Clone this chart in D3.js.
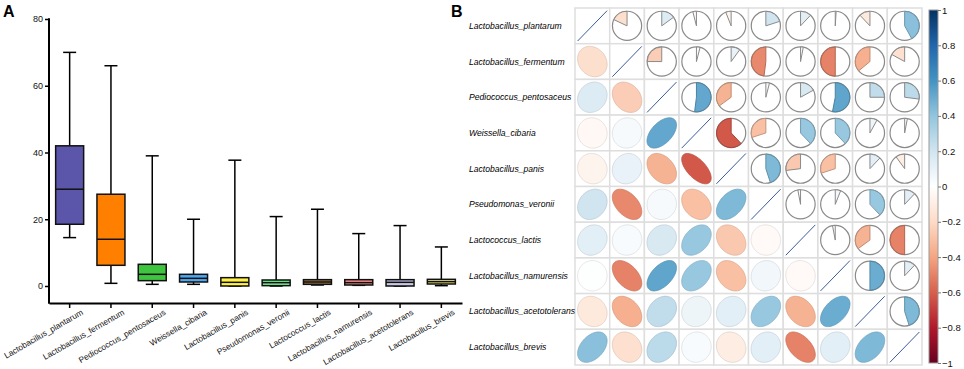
<!DOCTYPE html>
<html>
<head>
<meta charset="utf-8">
<script src="https://cdn.jsdelivr.net/npm/d3@7"></script>
<style>
  body { margin: 0; background: #ffffff; }
  svg { display: block; font-family: "Liberation Sans", Arial, sans-serif; }
</style>
</head>
<body>
<div id="chart"></div>
<script>
// species, same order for the box plot and the matrix
const species = [
  "Lactobacillus_plantarum", "Lactobacillus_fermentum", "Pediococcus_pentosaceus",
  "Weissella_cibaria", "Lactobacillus_panis", "Pseudomonas_veronii",
  "Lactococcus_lactis", "Lactobacillus_namurensis", "Lactobacillus_acetotolerans",
  "Lactobacillus_brevis"
];

// box plot values
const boxMin    = [14.5, 0.8, 0.5, 0.5, 0.0, 0.0, 0.3, 0.2, 0.0, 0.1];
const boxQ1     = [18.5, 6.2, 1.6, 1.2, 0.0, 0.1, 0.5, 0.3, 0.0, 0.6];
const boxMedian = [29.0, 14.0, 3.5, 2.3, 1.1, 1.0, 1.2, 1.0, 1.1, 1.3];
const boxQ3     = [42.0, 27.5, 6.5, 3.5, 2.5, 1.8, 1.9, 1.9, 1.9, 2.0];
const boxMax    = [70.0, 66.0, 39.0, 20.0, 37.7, 20.8, 23.0, 15.7, 18.1, 11.7];
const yTicks    = [0, 20, 40, 60, 80];
const boxColors = ["#5c56aa", "#ff8000", "#3fc43f", "#4ea8f0", "#fff04a",
                   "#6cf090", "#a67c4a", "#f08a86", "#c8c8e8", "#ece57a"];

// correlation, upper triangle row by row (j > i)
const corrUpper = [
  [-0.18, 0.15, -0.04, -0.06, 0.20, 0.12, 0.01, -0.12, 0.42],
  [-0.25, 0.04, 0.10, -0.48, 0.03, -0.50, -0.36, -0.17],
  [0.52, -0.35, 0.04, 0.17, 0.53, 0.25, 0.27],
  [-0.62, -0.30, 0.38, 0.38, 0.08, 0.03],
  [0.45, -0.27, -0.30, 0.12, -0.10],
  [-0.03, 0.06, 0.38, 0.12],
  [-0.03, -0.35, -0.50],
  [0.50, 0.12],
  [0.45]
];
const legendTicks = [1, 0.8, 0.6, 0.4, 0.2, 0, -0.2, -0.4, -0.6, -0.8, -1];
const rdbu = ["#67001F", "#B2182B", "#D6604D", "#F4A582", "#FDDBC7", "#FFFFFF",
              "#D1E5F0", "#92C5DE", "#4393C3", "#2166AC", "#053061"];

const W = 964, H = 369;
const svg = d3.select("#chart").append("svg").attr("width", W).attr("height", H);

// ---------- panel A ----------
svg.append("text").attr("x", 3).attr("y", 17)
   .style("font-size", "16px").style("font-weight", "bold").text("A");

const x = d3.scaleBand().domain(species).range([49, 462]);
const y = d3.scaleLinear().domain([0, 80]).range([286, 19]);
const axisY = 303;

const gA = svg.append("g");

const yAxis = gA.append("g").attr("transform", "translate(49,0)")
  .call(d3.axisLeft(y).tickValues(yTicks).tickSize(4).tickSizeOuter(0));
yAxis.select(".domain").remove();
yAxis.selectAll("line").attr("stroke-width", 1.5);
yAxis.selectAll("text").style("font-size", "9px").attr("x", -6).attr("fill", "#111");
gA.append("line").attr("x1", 49).attr("x2", 49).attr("y1", y(80) - 0.75).attr("y2", axisY + 0.75)
  .attr("stroke", "#000").attr("stroke-width", 2);

const xAxis = gA.append("g").attr("transform", `translate(0,${axisY})`)
  .call(d3.axisBottom(x).tickSize(5).tickSizeOuter(0));
xAxis.select(".domain").attr("stroke-width", 2);
xAxis.selectAll("line").attr("stroke-width", 1.5);
xAxis.selectAll("text")
  .style("font-size", "8.3px").attr("fill", "#111")
  .attr("text-anchor", "end")
  .attr("y", 0).attr("dy", 0)
  .attr("transform", "translate(14,11) rotate(-30)");

const boxes = species.map((s, i) => ({
  name: s, min: boxMin[i], q1: boxQ1[i], med: boxMedian[i], q3: boxQ3[i], max: boxMax[i], color: boxColors[i]
}));
const bw = 28, cap = 13;

const bg = gA.selectAll(".box").data(boxes).enter().append("g")
  .attr("transform", d => `translate(${x(d.name) + x.bandwidth() / 2},0)`);

bg.append("line").attr("x1", 0).attr("x2", 0)
  .attr("y1", d => y(d.max)).attr("y2", d => y(d.min))
  .attr("stroke", "#000").attr("stroke-width", 1.5);
bg.append("line").attr("x1", -cap / 2).attr("x2", cap / 2)
  .attr("y1", d => y(d.max)).attr("y2", d => y(d.max))
  .attr("stroke", "#000").attr("stroke-width", 1.5);
bg.append("line").attr("x1", -cap / 2).attr("x2", cap / 2)
  .attr("y1", d => y(d.min)).attr("y2", d => y(d.min))
  .attr("stroke", "#000").attr("stroke-width", 1.5);
bg.append("rect").attr("x", -bw / 2).attr("width", bw)
  .attr("y", d => y(d.q3)).attr("height", d => y(d.q1) - y(d.q3))
  .attr("fill", d => d.color).attr("stroke", "#111").attr("stroke-width", 1.5);
bg.append("line").attr("x1", -bw / 2).attr("x2", bw / 2)
  .attr("y1", d => y(d.med)).attr("y2", d => y(d.med))
  .attr("stroke", "#111").attr("stroke-width", 1.5);

// ---------- panel B ----------
svg.append("text").attr("x", 451).attr("y", 17)
   .style("font-size", "16px").style("font-weight", "bold").text("B");

const color = d3.scaleLinear().domain(d3.range(11).map(i => -1 + i * 0.2)).range(rdbu);

const cx = d3.scaleBand().domain(species).range([575, 922]);
const cy = d3.scaleBand().domain(species).range([8, 365]);
const cw = cx.bandwidth(), ch = cy.bandwidth();

// full matrix from the upper triangle
const cells = [];
species.forEach((a, i) => {
  species.forEach((b, j) => {
    let r;
    if (i === j) r = 1;
    else if (j > i) r = corrUpper[i][j - i - 1];
    else r = corrUpper[j][i - j - 1];
    cells.push({ row: a, col: b, i, j, r });
  });
});

const gB = svg.append("g");

gB.selectAll(".cell").data(cells).enter().append("rect")
  .attr("x", d => cx(d.col)).attr("y", d => cy(d.row))
  .attr("width", cw).attr("height", ch)
  .attr("fill", "#fff").attr("stroke", "#dedede").attr("stroke-width", 1.5);

gB.selectAll(".rowlab").data(species).enter().append("text")
  .attr("x", 469).attr("y", d => cy(d) + ch / 2).attr("dy", "0.35em")
  .style("font-size", "8.6px").style("font-style", "italic").attr("fill", "#000")
  .text(d => d);

// ellipses in the lower triangle and on the diagonal
const ellScale = 0.85;
function ellipsePoints(r) {
  const d = Math.acos(Math.max(-1, Math.min(1, r)));
  return d3.range(0, 100).map(k => {
    const t = k / 100 * 2 * Math.PI;
    return [Math.cos(t + d / 2) / 2 * cw * ellScale, -Math.cos(t - d / 2) / 2 * ch * ellScale];
  });
}
const lineGen = d3.line().curve(d3.curveLinearClosed);

gB.selectAll(".ell").data(cells.filter(d => d.i > d.j)).enter().append("path")
  .attr("transform", d => `translate(${cx(d.col) + cw / 2},${cy(d.row) + ch / 2})`)
  .attr("d", d => lineGen(ellipsePoints(d.r)))
  .attr("fill", d => color(d.r))
  .attr("stroke", d => d3.color(color(d.r)).darker(0.35))
  .attr("stroke-width", 0.8);

gB.selectAll(".diag").data(cells.filter(d => d.i === d.j)).enter().append("line")
  .attr("x1", d => cx(d.col) + cw / 2 - cw * ellScale / 2)
  .attr("x2", d => cx(d.col) + cw / 2 + cw * ellScale / 2)
  .attr("y1", d => cy(d.row) + ch / 2 + ch * ellScale / 2)
  .attr("y2", d => cy(d.row) + ch / 2 - ch * ellScale / 2)
  .attr("stroke", "#3b5c9c").attr("stroke-width", 1);

// pies in the upper triangle
const pieR = 14.6;
const arc = d3.arc().innerRadius(0).outerRadius(pieR);
const pg = gB.selectAll(".pie").data(cells.filter(d => d.j > d.i)).enter().append("g")
  .attr("transform", d => `translate(${cx(d.col) + cw / 2},${cy(d.row) + ch / 2})`);
pg.append("circle").attr("r", pieR).attr("fill", "#fff")
  .attr("stroke", "#8a8a8a").attr("stroke-width", 1.2);
pg.append("path")
  .attr("d", d => d.r >= 0
    ? arc({ startAngle: 0, endAngle: d.r * 2 * Math.PI })
    : arc({ startAngle: d.r * 2 * Math.PI, endAngle: 0 }))
  .attr("fill", d => color(d.r))
  .attr("stroke", d => Math.abs(d.r) < 0.3 ? "#8a8a8a" : d3.color(color(d.r)).darker(0.7))
  .attr("stroke-width", 1);

// colour legend
const ly = d3.scaleLinear().domain([-1, 1]).range([363, 10]);
const grad = svg.append("defs").append("linearGradient").attr("id", "cbar")
  .attr("x1", 0).attr("x2", 0).attr("y1", 1).attr("y2", 0);
grad.selectAll("stop").data(d3.range(0, 41)).enter().append("stop")
  .attr("offset", d => d / 40)
  .attr("stop-color", d => color(-1 + d / 20));

svg.append("rect").attr("x", 929).attr("y", ly(1)).attr("width", 9)
  .attr("height", ly(-1) - ly(1)).attr("fill", "url(#cbar)")
  .attr("stroke", "#9a9a9a").attr("stroke-width", 1);

const lg = svg.append("g").attr("transform", "translate(938,0)")
  .call(d3.axisRight(ly).tickValues(legendTicks).tickSize(3).tickSizeOuter(0)
        .tickFormat(d => d3.format("")(+d.toFixed(1))));
lg.select(".domain").remove();
lg.selectAll("line").attr("stroke", "#777");
lg.selectAll("text").style("font-size", "9.5px").attr("fill", "#111").attr("x", 4);
</script>
</body>
</html>
